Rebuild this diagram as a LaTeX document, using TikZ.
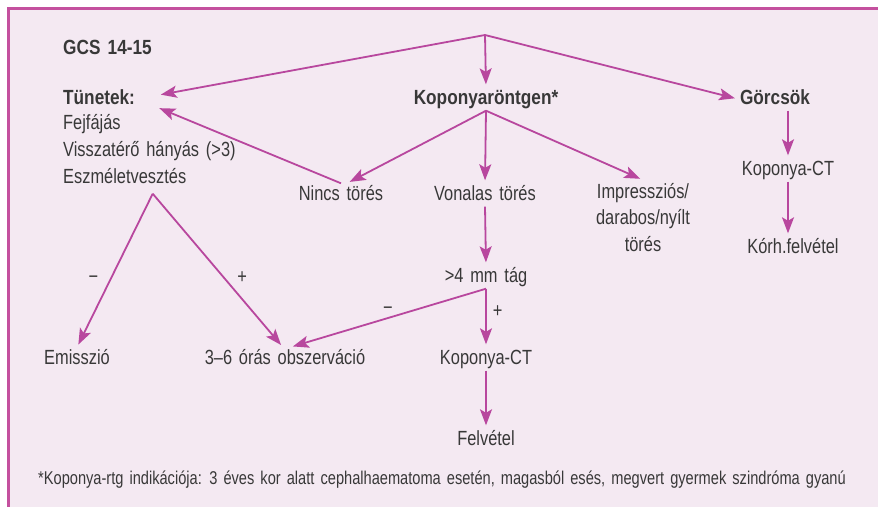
\documentclass[tikz,border=0pt]{standalone}
\usepackage{fontspec}
\setmainfont{Liberation Sans}[FakeStretch=0.8, WordSpace=1.5,
  BoldFeatures={FakeStretch=0.84}]
\newfontfamily\labjfont{Liberation Sans}[FakeStretch=0.79, WordSpace=1.5]
\usepackage{tikz}
\usetikzlibrary{arrows.meta, calc, positioning}
\definecolor{keret}{HTML}{C4509E}
\definecolor{nyilszin}{HTML}{B8479E}
\definecolor{hatter}{HTML}{F4E9F2}
\definecolor{szoveg}{HTML}{383838}

\begin{document}
\begin{tikzpicture}[
    x=1pt, y=-1pt,
    every node/.style={font=\fontsize{20.5}{26.5}\selectfont, text=szoveg,
      inner sep=2pt, text height=15pt, text depth=4pt},
    cim/.style={font=\fontsize{20.5}{26.5}\selectfont\bfseries},
    nyil/.style={draw=nyilszin, line width=1.8pt, shorten >=3pt,
      -{Stealth[length=16pt, width=12pt, inset=3.5pt]}},
  ]
  \useasboundingbox (0,0) rectangle (878,507);
  \fill[hatter] (8,8) rectangle (878,507);
  \draw[keret, line width=3pt] (878,8) -- (8,8) -- (8,507);

  % Kiindulas
  \node[cim, anchor=west] (gcs) at (61,49) {GCS 14-15};
  \coordinate (elag) at (485,35);

  % Tunetek
  \node[cim, anchor=west] (tun) at (61,99) {Tünetek:};
  \node[anchor=west] (fej) at (61,124) {Fejfájás};
  \node[anchor=west] (hany) at (61,151) {Visszatérő hányás (>3)};
  \node[anchor=west] (esz) at (61,178) {Eszméletvesztés};
  \coordinate (eszag) at ([xshift=28pt, yshift=-4pt]esz.south);
  \node (emi) at (77,359) {Emisszió};
  \node (obs) at (285,359) {3–6 órás obszerváció};

  % Koponyarontgen
  \node[cim] (kop) at (486,99) {Koponyaröntgen*};
  \node (nincs) at (341,195) {Nincs törés};
  \node (von) at (485,195) {Vonalas törés};
  \node[align=center, anchor=north, text height=, text depth=, inner sep=0pt]
    (imp) at (643,183) {Impressziós/\\darabos/nyílt\\törés};
  \node (tag) at (486,277) {>4 mm tág};
  \node (ct1) at (486,359) {Koponya-CT};
  \node (felv) at (486,440) {Felvétel};

  % Gorcsok
  \node[cim] (gor) at (775,99) {Görcsök};
  \node (ct2) at (788,170) {Koponya-CT};
  \node (korh) at (793,248) {Kórh.felvétel};

  % Labjegyzet
  \node[anchor=west, font=\fontsize{18.5}{20}\labjfont] (labj) at (36,479)
    {*Koponya-rtg indikációja: 3 éves kor alatt cephalhaematoma esetén, magasból esés, megvert gyermek szindróma gyanú};

  % Nyilak
  \draw[nyil, shorten >=24pt] (elag) -- (tun.east);
  \draw[nyil] (elag) -- (kop.north);
  \draw[nyil] (elag) -- (gor.west);
  \draw[nyil] (kop.south) -- ([xshift=6pt]nincs.north);
  \draw[nyil] (kop.south) -- (von.north);
  \draw[nyil] (kop.south) -- ([yshift=3pt]imp.north);
  \draw[nyil, shorten >=24pt] (nincs.north) -- (tun.east);
  \draw[nyil] (von.south) -- (tag.north);
  \draw[nyil] (tag.south) -- node[right=4pt, pos=0.4] {+} (ct1.north);
  \draw[nyil] (tag.south) -- node[above=-3pt] {−} ([xshift=5pt]obs.north);
  \draw[nyil] (eszag) -- node[left=10pt, pos=0.55] {−} (emi.north);
  \draw[nyil] (eszag) -- node[right=10pt, pos=0.55] {+} ([xshift=-2pt]obs.north);
  \draw[nyil] (ct2.north |- gor.south) -- (ct2.north);
  \draw[nyil] (ct2.south) -- (ct2.south |- korh.north);
  \draw[nyil] (ct1.south) -- (felv.north);
\end{tikzpicture}
\end{document}
